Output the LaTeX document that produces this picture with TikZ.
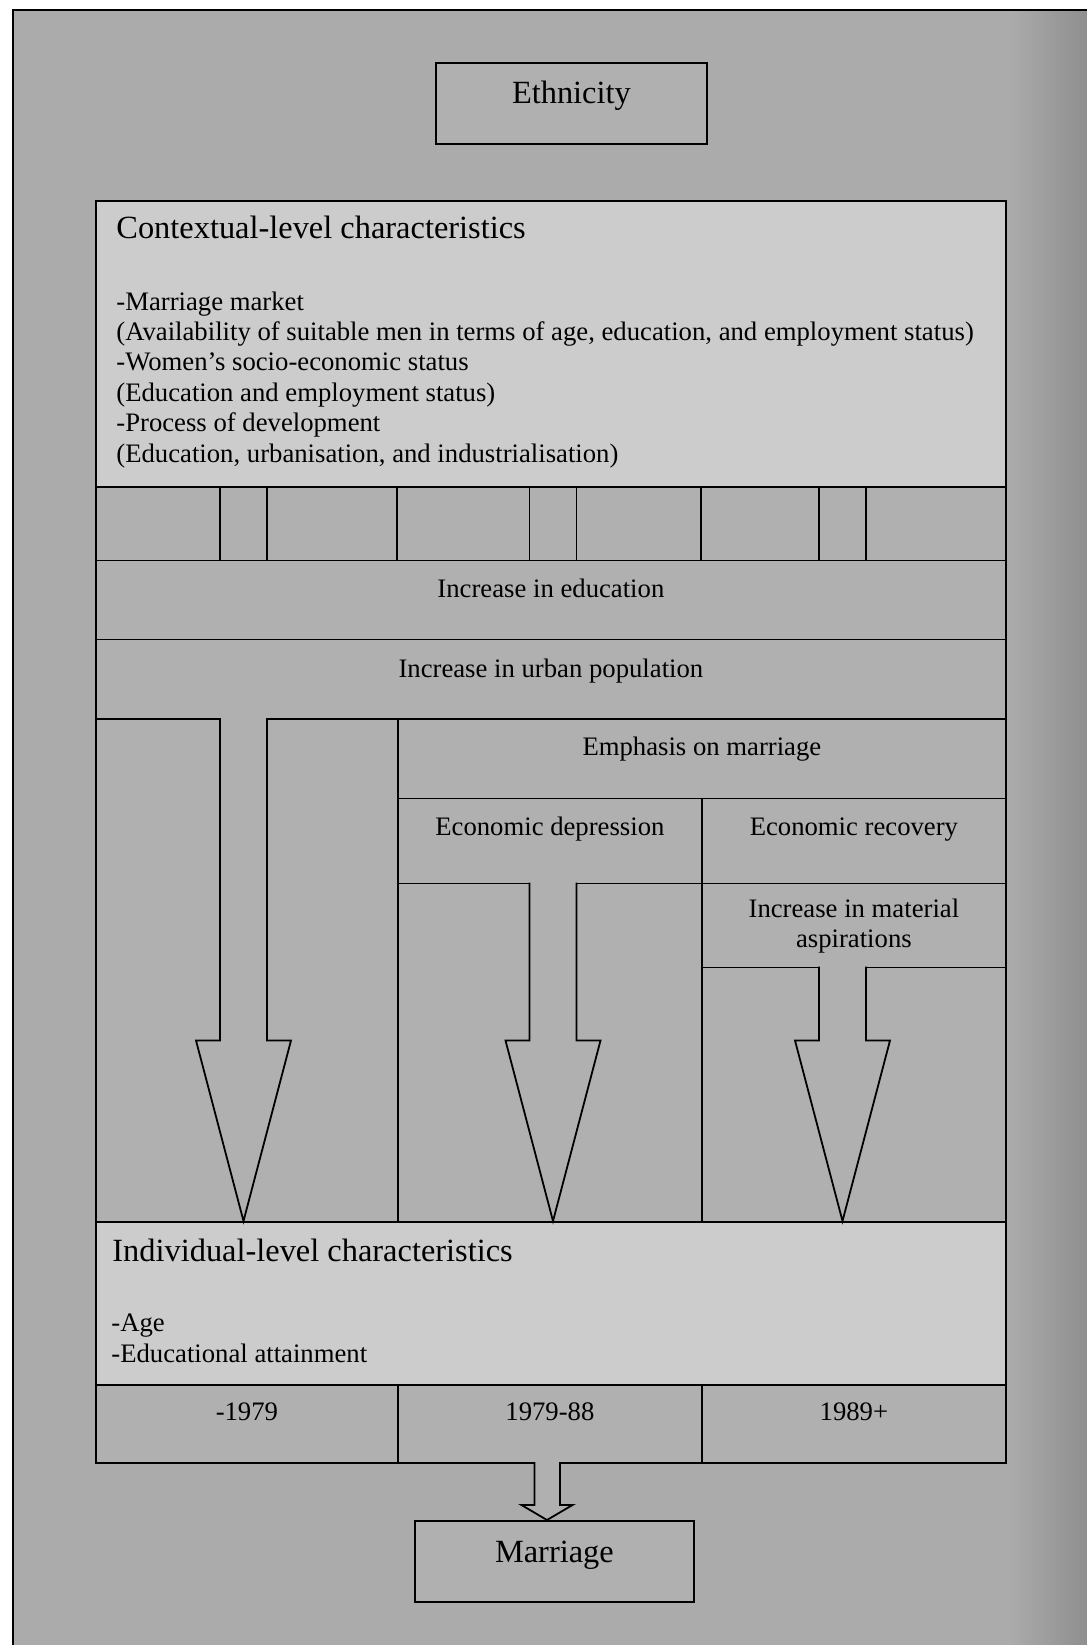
\documentclass[tikz,border=0pt]{standalone}
\usepackage{fontspec}
\setmainfont{Liberation Serif}
\definecolor{bggray}{gray}{0.67}
\definecolor{rowgray}{gray}{0.69}
\definecolor{palegray}{gray}{0.80}
\definecolor{edgegray}{gray}{0.56}
\newcommand{\txtbody}{\fontsize{13.35}{15.2}\selectfont}
\newcommand{\txthead}{\fontsize{16.2}{18}\selectfont}

\begin{document}
\begin{tikzpicture}[x=0.5pt,y=-0.5pt,
  cell/.style={draw,fill=rowgray,line width=0.9pt,inner sep=0pt,anchor=north west,font=\txtbody},
  pale/.style={cell,fill=palegray},
  words/.style={inner sep=0pt,anchor=base west,font=\txtbody},
  blockarrow/.style={draw,fill=rowgray,line width=0.9pt,line join=miter}]
\useasboundingbox (0,0) rectangle (1087,1645);
\fill[bggray] (13,10) rectangle (1087,1645);
\shade[left color=bggray,right color=edgegray] (1010,10) rectangle (1087,1645);
\draw[line width=1pt] (13,1645) -- (13,10) -- (1087,10);

\node[cell,font=\txthead,minimum width=135.5pt,text height=20.5pt,text depth=20pt] at (435,62) (eth) {Ethnicity};

\node[pale,minimum width=455pt,minimum height=143pt] at (95,200) (ctx) {};
\node[words,font=\txthead] at (116,238) (ctxhead) {Contextual-level characteristics};
% multi-line text sits on its last line
\node[words,align=left] at (116,462) (ctxbody) {-Marriage market\\
(Availability of suitable men in terms of age, education, and employment status)\\
-Women’s socio-economic status\\
(Education and employment status)\\
-Process of development\\
(Education, urbanisation, and industrialisation)};

\node[cell,minimum width=455pt,minimum height=36.75pt] at (95,486) (strip) {};
\node[cell,minimum width=455pt,text height=18.75pt,text depth=20.75pt] at (95,559.5) (edu) {Increase in education};
\node[cell,minimum width=455pt,text height=19pt,text depth=20.75pt] at (95,638.5) (urban) {Increase in urban population};

\node[cell,minimum width=151pt,minimum height=251.5pt] at (95,718) (lcol) {};
\node[cell,minimum width=304pt,text height=18.5pt,text depth=21.25pt] at (397,718) (emph) {Emphasis on marriage};
\node[cell,minimum width=152pt,text height=18.75pt,text depth=23.75pt] at (397,797.5) (dep) {Economic depression};
\node[cell,minimum width=152pt,text height=18.75pt,text depth=23.75pt] at (701,797.5) (rec) {Economic recovery};
\node[cell,minimum width=152pt,minimum height=169.25pt] at (397,882.5) (mcol) {};
\node[cell,align=center,minimum width=152pt,text height=32.25pt,text depth=9.75pt] at (701,882.5) (mat) {Increase in material\\aspirations};
\node[cell,minimum width=152pt,minimum height=127.25pt] at (701,966.5) (rcol) {};

\node[pale,minimum width=455pt,minimum height=81.5pt] at (95,1221) (indiv) {};
\node[words,font=\txthead] at (112,1261) (indhead) {Individual-level characteristics};
\node[words,align=left] at (111,1362) (indbody) {-Age\\[0.3pt]-Educational attainment};

\node[cell,minimum width=151pt,text height=18pt,text depth=21pt] at (95,1384) (yr1) {-1979};
\node[cell,minimum width=152pt,text height=18pt,text depth=21pt] at (397,1384) (yr2) {1979-88};
\node[cell,minimum width=152pt,text height=18pt,text depth=21pt] at (701,1384) (yr3) {1989+};

\node[cell,font=\txthead,minimum width=139.5pt,text height=20.75pt,text depth=19.75pt] at (414,1520) (marr) {Marriage};

\draw[line width=0.9pt] (220,486) -- (220,559.5) (267,486) -- (267,559.5)
  (397,486) -- (397,559.5) (529.5,486) -- (529.5,559.5) (576.5,486) -- (576.5,559.5)
  (701,486) -- (701,559.5) (819,486) -- (819,559.5) (866,486) -- (866,559.5);

\draw[blockarrow] (220,718) -- (220,1040.5) -- (196,1040.5) -- (243.5,1221) -- (291,1040.5) -- (267,1040.5) -- (267,718);
\draw[blockarrow] (529.5,882.5) -- (529.5,1040.5) -- (505.5,1040.5) -- (553,1221) -- (600.5,1040.5) -- (576.5,1040.5) -- (576.5,882.5);
\draw[blockarrow] (819,966.5) -- (819,1040.5) -- (795,1040.5) -- (842.5,1221) -- (890,1040.5) -- (866,1040.5) -- (866,966.5);
\draw[blockarrow] (534.5,1462) -- (534.5,1505) -- (521.5,1505) -- (547,1520) -- (572.5,1505) -- (560,1505) -- (560,1462);
\end{tikzpicture}
\end{document}
